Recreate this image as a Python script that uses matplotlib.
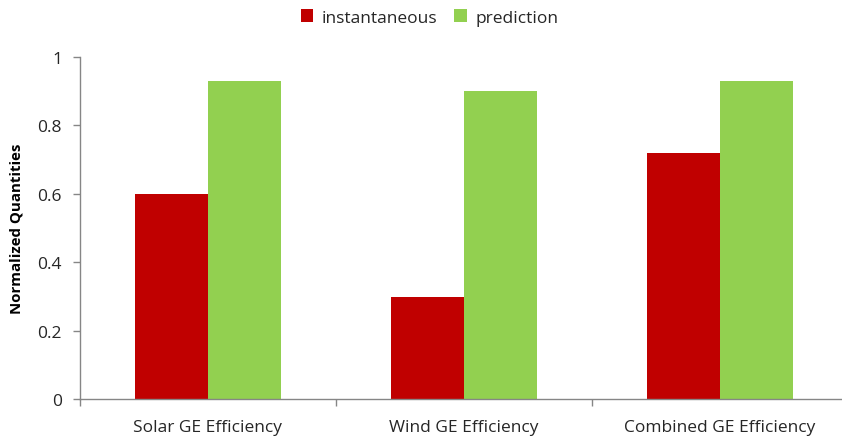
import matplotlib
matplotlib.use("Agg")
import matplotlib.pyplot as plt
import numpy as np

plt.rcParams["font.family"] = ["Open Sans", "DejaVu Sans"]

categories = ["Solar GE Efficiency", "Wind GE Efficiency", "Combined GE Efficiency"]
instantaneous = [0.6, 0.3, 0.72]
prediction = [0.93, 0.9, 0.93]

red = "#C00000"
green = "#92D050"
axis_gray = "#868686"
text_col = "#262626"

fig = plt.figure(figsize=(8.42, 4.39), dpi=100)
ax = fig.add_axes([0.095, 0.0877, 0.912, 0.7803])

x = np.arange(len(categories))
w = 0.285
ax.bar(x - w / 2, instantaneous, w, color=red, label="instantaneous")
ax.bar(x + w / 2, prediction, w, color=green, label="prediction")

ax.set_xlim(-0.5, len(categories) - 0.5)
ax.set_ylim(0, 1)
ax.set_yticks([0, 0.2, 0.4, 0.6, 0.8, 1.0])
ax.set_yticklabels(["0", "0.2", "0.4", "0.6", "0.8", "1"])

# category labels centred, tick marks between groups
ax.set_xticks(x)
ax.set_xticklabels(categories)
ax.set_xticks(np.arange(-0.5, len(categories)), minor=True)
ax.tick_params(axis="x", which="major", length=0, pad=14, labelsize=12.5, colors=text_col)
ax.tick_params(axis="x", which="minor", length=5, width=1, color=axis_gray, direction="out")
ax.tick_params(axis="y", length=5, width=1, color=axis_gray, labelsize=12.5,
               labelcolor=text_col, pad=8)

for s in ["top", "right"]:
    ax.spines[s].set_visible(False)
for s in ["left", "bottom"]:
    ax.spines[s].set_color(axis_gray)
    ax.spines[s].set_linewidth(1)

ax.set_ylabel("Normalized Quantities", fontsize=10.8, fontweight="bold", labelpad=10)

fig.legend(loc="upper center", bbox_to_anchor=(0.51, 1.012), ncol=2, frameon=False,
           fontsize=12.5, handlelength=0.7, handleheight=0.7, columnspacing=1.0,
           handletextpad=0.5, labelcolor=text_col)

fig.savefig("out.png", dpi=100)
